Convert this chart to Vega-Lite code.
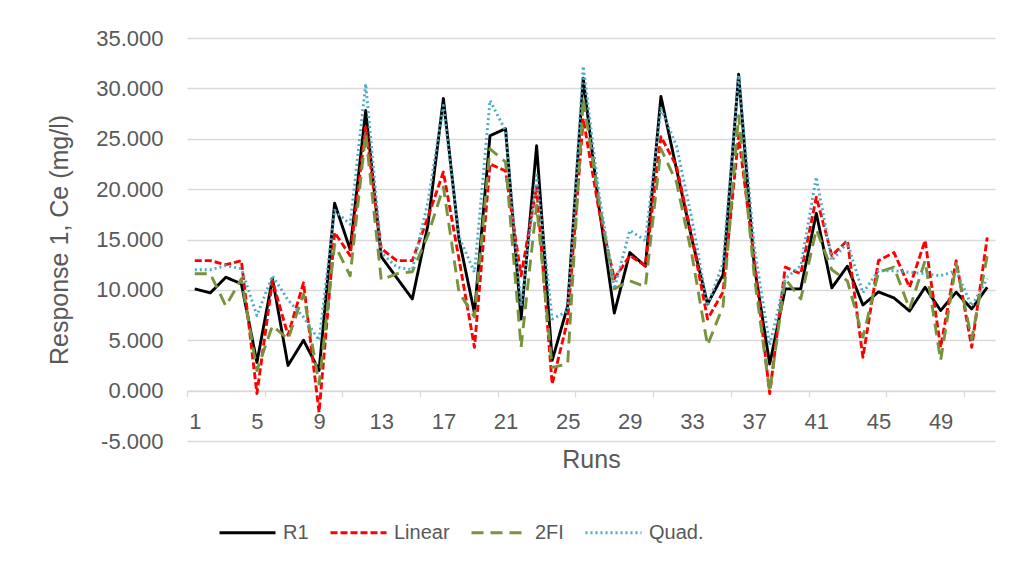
{
  "$schema": "https://vega.github.io/schema/vega-lite/v6.json",
  "width": 808,
  "height": 403,
  "autosize": {"type": "none"},
  "padding": {"left": 187, "top": 38, "right": 21, "bottom": 122},
  "background": "white",
  "config": {"view": {"stroke": null}, "font": "Liberation Sans"},
  "data": {"values": [
    {"run": 1, "R1": 10.1, "Linear": 12.9, "2FI": 11.6, "Quad": 12.0},
    {"run": 2, "R1": 9.7, "Linear": 12.9, "2FI": 11.6, "Quad": 12.0},
    {"run": 3, "R1": 11.25, "Linear": 12.5, "2FI": 8.4, "Quad": 12.4},
    {"run": 4, "R1": 10.6, "Linear": 12.9, "2FI": 11.1, "Quad": 12.1},
    {"run": 5, "R1": 2.8, "Linear": -0.3, "2FI": 2.0, "Quad": 7.45},
    {"run": 6, "R1": 11.1, "Linear": 10.9, "2FI": 6.45, "Quad": 11.4},
    {"run": 7, "R1": 2.5, "Linear": 5.5, "2FI": 5.1, "Quad": 9.0},
    {"run": 8, "R1": 5.0, "Linear": 10.7, "2FI": 9.6, "Quad": 7.3},
    {"run": 9, "R1": 2.0, "Linear": -2.15, "2FI": 0.65, "Quad": 5.0},
    {"run": 10, "R1": 18.6, "Linear": 15.7, "2FI": 14.5, "Quad": 17.9},
    {"run": 11, "R1": 14.0, "Linear": 13.4, "2FI": 11.4, "Quad": 16.5},
    {"run": 12, "R1": 27.8, "Linear": 26.15, "2FI": 25.5, "Quad": 30.45},
    {"run": 13, "R1": 13.3, "Linear": 14.1, "2FI": 11.0, "Quad": 13.7},
    {"run": 14, "R1": 11.2, "Linear": 12.9, "2FI": 11.6, "Quad": 12.25},
    {"run": 15, "R1": 9.1, "Linear": 12.9, "2FI": 11.8, "Quad": 12.0},
    {"run": 16, "R1": 16.4, "Linear": 17.2, "2FI": 15.4, "Quad": 18.7},
    {"run": 17, "R1": 29.0, "Linear": 21.7, "2FI": 20.2, "Quad": 28.3},
    {"run": 18, "R1": 15.1, "Linear": 13.1, "2FI": 9.8, "Quad": 15.3},
    {"run": 19, "R1": 7.7, "Linear": 4.3, "2FI": 7.3, "Quad": 11.75},
    {"run": 20, "R1": 25.3, "Linear": 22.5, "2FI": 24.0, "Quad": 28.8},
    {"run": 21, "R1": 26.0, "Linear": 21.8, "2FI": 22.7, "Quad": 25.8},
    {"run": 22, "R1": 7.1, "Linear": 11.4, "2FI": 4.3, "Quad": 8.4},
    {"run": 23, "R1": 24.3, "Linear": 20.2, "2FI": 18.4, "Quad": 21.35},
    {"run": 24, "R1": 3.0, "Linear": 0.65, "2FI": 2.3, "Quad": 7.1},
    {"run": 25, "R1": 8.4, "Linear": 7.0, "2FI": 2.65, "Quad": 7.9},
    {"run": 26, "R1": 31.0, "Linear": 27.0, "2FI": 29.0, "Quad": 32.2},
    {"run": 27, "R1": 18.4, "Linear": 18.0, "2FI": 19.0, "Quad": 19.7},
    {"run": 28, "R1": 7.7, "Linear": 11.1, "2FI": 10.1, "Quad": 10.1},
    {"run": 29, "R1": 13.7, "Linear": 13.4, "2FI": 10.9, "Quad": 15.9},
    {"run": 30, "R1": 12.35, "Linear": 12.4, "2FI": 10.3, "Quad": 14.9},
    {"run": 31, "R1": 29.2, "Linear": 25.2, "2FI": 24.0, "Quad": 28.0},
    {"run": 32, "R1": 22.0, "Linear": 22.3, "2FI": 20.7, "Quad": 24.3},
    {"run": 33, "R1": 15.0, "Linear": 15.2, "2FI": 13.4, "Quad": 17.0},
    {"run": 34, "R1": 8.6, "Linear": 7.1, "2FI": 4.5, "Quad": 8.4},
    {"run": 35, "R1": 11.5, "Linear": 9.8, "2FI": 8.4, "Quad": 12.7},
    {"run": 36, "R1": 31.4, "Linear": 25.3, "2FI": 27.3, "Quad": 31.3},
    {"run": 37, "R1": 12.5, "Linear": 13.1, "2FI": 11.5, "Quad": 14.4},
    {"run": 38, "R1": 2.65, "Linear": -0.3, "2FI": -0.15, "Quad": 4.5},
    {"run": 39, "R1": 10.1, "Linear": 12.25, "2FI": 11.1, "Quad": 11.1},
    {"run": 40, "R1": 10.1, "Linear": 11.6, "2FI": 9.1, "Quad": 12.4},
    {"run": 41, "R1": 17.6, "Linear": 19.2, "2FI": 16.0, "Quad": 21.2},
    {"run": 42, "R1": 10.2, "Linear": 13.4, "2FI": 12.0, "Quad": 12.9},
    {"run": 43, "R1": 12.35, "Linear": 14.9, "2FI": 10.9, "Quad": 14.7},
    {"run": 44, "R1": 8.5, "Linear": 3.3, "2FI": 5.3, "Quad": 9.7},
    {"run": 45, "R1": 9.8, "Linear": 12.9, "2FI": 11.75, "Quad": 11.9},
    {"run": 46, "R1": 9.2, "Linear": 13.7, "2FI": 12.25, "Quad": 11.9},
    {"run": 47, "R1": 7.9, "Linear": 10.26, "2FI": 8.1, "Quad": 11.75},
    {"run": 48, "R1": 10.26, "Linear": 14.9, "2FI": 12.9, "Quad": 11.6},
    {"run": 49, "R1": 7.95, "Linear": 4.3, "2FI": 3.0, "Quad": 11.4},
    {"run": 50, "R1": 9.77, "Linear": 12.9, "2FI": 12.6, "Quad": 11.9},
    {"run": 51, "R1": 8.1, "Linear": 4.3, "2FI": 5.1, "Quad": 8.4},
    {"run": 52, "R1": 10.26, "Linear": 15.2, "2FI": 13.4, "Quad": 11.1}
  ]},
  "transform": [{"fold": ["R1", "Linear", "2FI", "Quad"], "as": ["series", "value"]}],
  "mark": {"type": "line", "strokeWidth": 2.9, "strokeJoin": "round"},
  "encoding": {
    "x": {
      "field": "run", "type": "quantitative",
      "scale": {"domain": [0.5, 52.5], "nice": false, "zero": false},
      "axis": {
        "title": "Runs",
        "values": [0.5, 1, 5, 5.5, 9, 10.5, 13, 15.5, 17, 20.5, 21, 25, 25.5, 29, 30.5, 33, 35.5, 37, 40.5, 41, 45, 45.5, 49, 50.5],
        "labelExpr": "datum.value % 1 == 0 ? format(datum.value, 'd') : ''",
        "grid": false,
        "domainColor": "#d9d9d9", "domainWidth": 1.3,
        "tickColor": "#d9d9d9", "tickWidth": 1.3, "tickSize": 6,
        "tickOpacity": {"condition": {"test": "datum.value % 1 != 0", "value": 1}, "value": 0},
        "offset": -50.4,
        "labelPadding": 15, "labelFontSize": 22, "labelColor": "#595959", "labelFont": "Liberation Sans",
        "labelOverlap": false, "labelFlush": false,
        "titleFontSize": 25, "titleFontWeight": "normal", "titleColor": "#595959", "titleFont": "Liberation Sans", "titlePadding": 15
      }
    },
    "y": {
      "field": "value", "type": "quantitative",
      "scale": {"domain": [-5, 35], "nice": false},
      "axis": {
        "title": "Response 1, Ce (mg/l)",
        "values": [-5, 0, 5, 10, 15, 20, 25, 30, 35],
        "labelExpr": "(datum.value < 0 ? '-' : '') + format(abs(datum.value), '.3f')",
        "grid": true, "gridColor": "#d9d9d9", "gridWidth": 1.3,
        "domain": false, "ticks": false,
        "labelPadding": 24, "labelFontSize": 22, "labelColor": "#595959", "labelFont": "Liberation Sans",
        "titleFontSize": 25, "titleFontWeight": "normal", "titleColor": "#595959", "titleFont": "Liberation Sans", "titlePadding": 23
      }
    },
    "color": {
      "field": "series", "type": "nominal",
      "scale": {"domain": ["R1", "Linear", "2FI", "Quad"], "range": ["#000000", "#ff0000", "#77933c", "#4bacc6"]},
      "legend": {"title": null, "orient": "none", "legendX": 31, "legendY": 465, "direction": "horizontal", "symbolType": "stroke", "symbolSize": 3136, "symbolStrokeWidth": 3, "labelFontSize": 20, "labelColor": "#595959", "labelFont": "Liberation Sans", "labelOffset": 6, "columnPadding": 15, "padding": 0, "labelExpr": "datum.label == 'Quad' ? 'Quad.' : datum.label"}
    },
    "strokeDash": {
      "field": "series", "type": "nominal",
      "scale": {"domain": ["R1", "Linear", "2FI", "Quad"], "range": [[1, 0], [7, 3], [12, 7], [2, 3]]},
      "legend": {"title": null, "orient": "none", "legendX": 31, "legendY": 465, "direction": "horizontal", "symbolType": "stroke", "symbolSize": 3136, "symbolStrokeWidth": 3, "labelFontSize": 20, "labelColor": "#595959", "labelFont": "Liberation Sans", "labelOffset": 6, "columnPadding": 15, "padding": 0, "labelExpr": "datum.label == 'Quad' ? 'Quad.' : datum.label"}
    }
  }
}
